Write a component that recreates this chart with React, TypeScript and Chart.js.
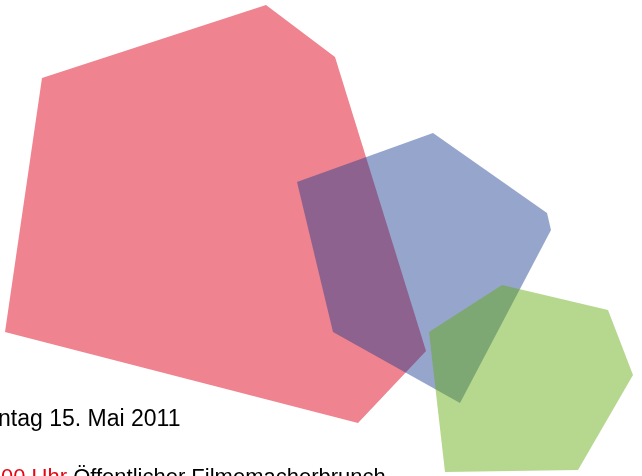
import React, { useEffect, useRef } from "react";
import { Chart, registerables } from "chart.js";

Chart.register(...registerables);

// Polygon vertices (x, y)
const redX = [42, 266, 335, 426, 358, 5];
const redY = [78, 5, 57, 351, 423, 332];
const blueX = [297, 433, 547, 551, 460, 333];
const blueY = [182, 133, 213, 230, 403, 332];
const greenX = [502, 608, 633, 578, 445, 429];
const greenY = [285, 310, 375, 470, 472, 332];

const line1 = "ntag 15. Mai 2011";
const line2Time = "00 Uhr";
const line2Rest = " Öffentlicher Filmemacherbrunch";

const W = 642;
const H = 476;

function closed(xs: number[], ys: number[]) {
  const pts = xs.map((x, i) => ({ x, y: ys[i] }));
  pts.push({ x: xs[0], y: ys[0] });
  return pts;
}

const textPlugin = {
  id: "textPlugin",
  afterDraw(chart: any) {
    const ctx = chart.ctx;
    ctx.save();
    ctx.textBaseline = "alphabetic";
    ctx.font = '23px "Liberation Sans", Arial, sans-serif';
    ctx.fillStyle = "#000000";
    ctx.fillText(line1, -2, 426);
    ctx.font = '22px "Liberation Sans", Arial, sans-serif';
    ctx.fillStyle = "#e30613";
    ctx.fillText(line2Time, 1, 484);
    const w = ctx.measureText(line2Time).width;
    ctx.fillStyle = "#000000";
    ctx.fillText(line2Rest, 1 + w, 484);
    ctx.restore();
  },
};

export default function App() {
  const ref = useRef<HTMLCanvasElement | null>(null);
  useEffect(() => {
    if (!ref.current) return;
    const chart = new Chart(ref.current, {
      type: "scatter",
      data: {
        datasets: [
          {
            data: closed(redX, redY),
            showLine: true,
            fill: "shape",
            backgroundColor: "rgb(239,131,143)",
            borderWidth: 0,
            pointRadius: 0,
            order: 3,
          },
          {
            data: closed(blueX, blueY),
            showLine: true,
            fill: "shape",
            backgroundColor: "rgba(27,59,142,0.46)",
            borderWidth: 0,
            pointRadius: 0,
            order: 2,
          },
          {
            data: closed(greenX, greenY),
            showLine: true,
            fill: "shape",
            backgroundColor: "rgba(101,172,18,0.48)",
            borderWidth: 0,
            pointRadius: 0,
            order: 1,
          },
        ] as any,
      },
      options: {
        responsive: false,
        animation: false,
        layout: { padding: 0 },
        scales: {
          x: { type: "linear", min: 0, max: W, display: false },
          y: { type: "linear", min: 0, max: H, reverse: true, display: false },
        },
        plugins: {
          legend: { display: false },
          tooltip: { enabled: false },
        },
        elements: { line: { tension: 0 } },
      } as any,
      plugins: [textPlugin],
    });
    return () => chart.destroy();
  }, []);
  return (
    <div style={{ position: "fixed", left: 0, top: 0, width: W, height: H, background: "#fff" }}>
      <canvas ref={ref} width={W} height={H} style={{ display: "block" }} />
    </div>
  );
}
